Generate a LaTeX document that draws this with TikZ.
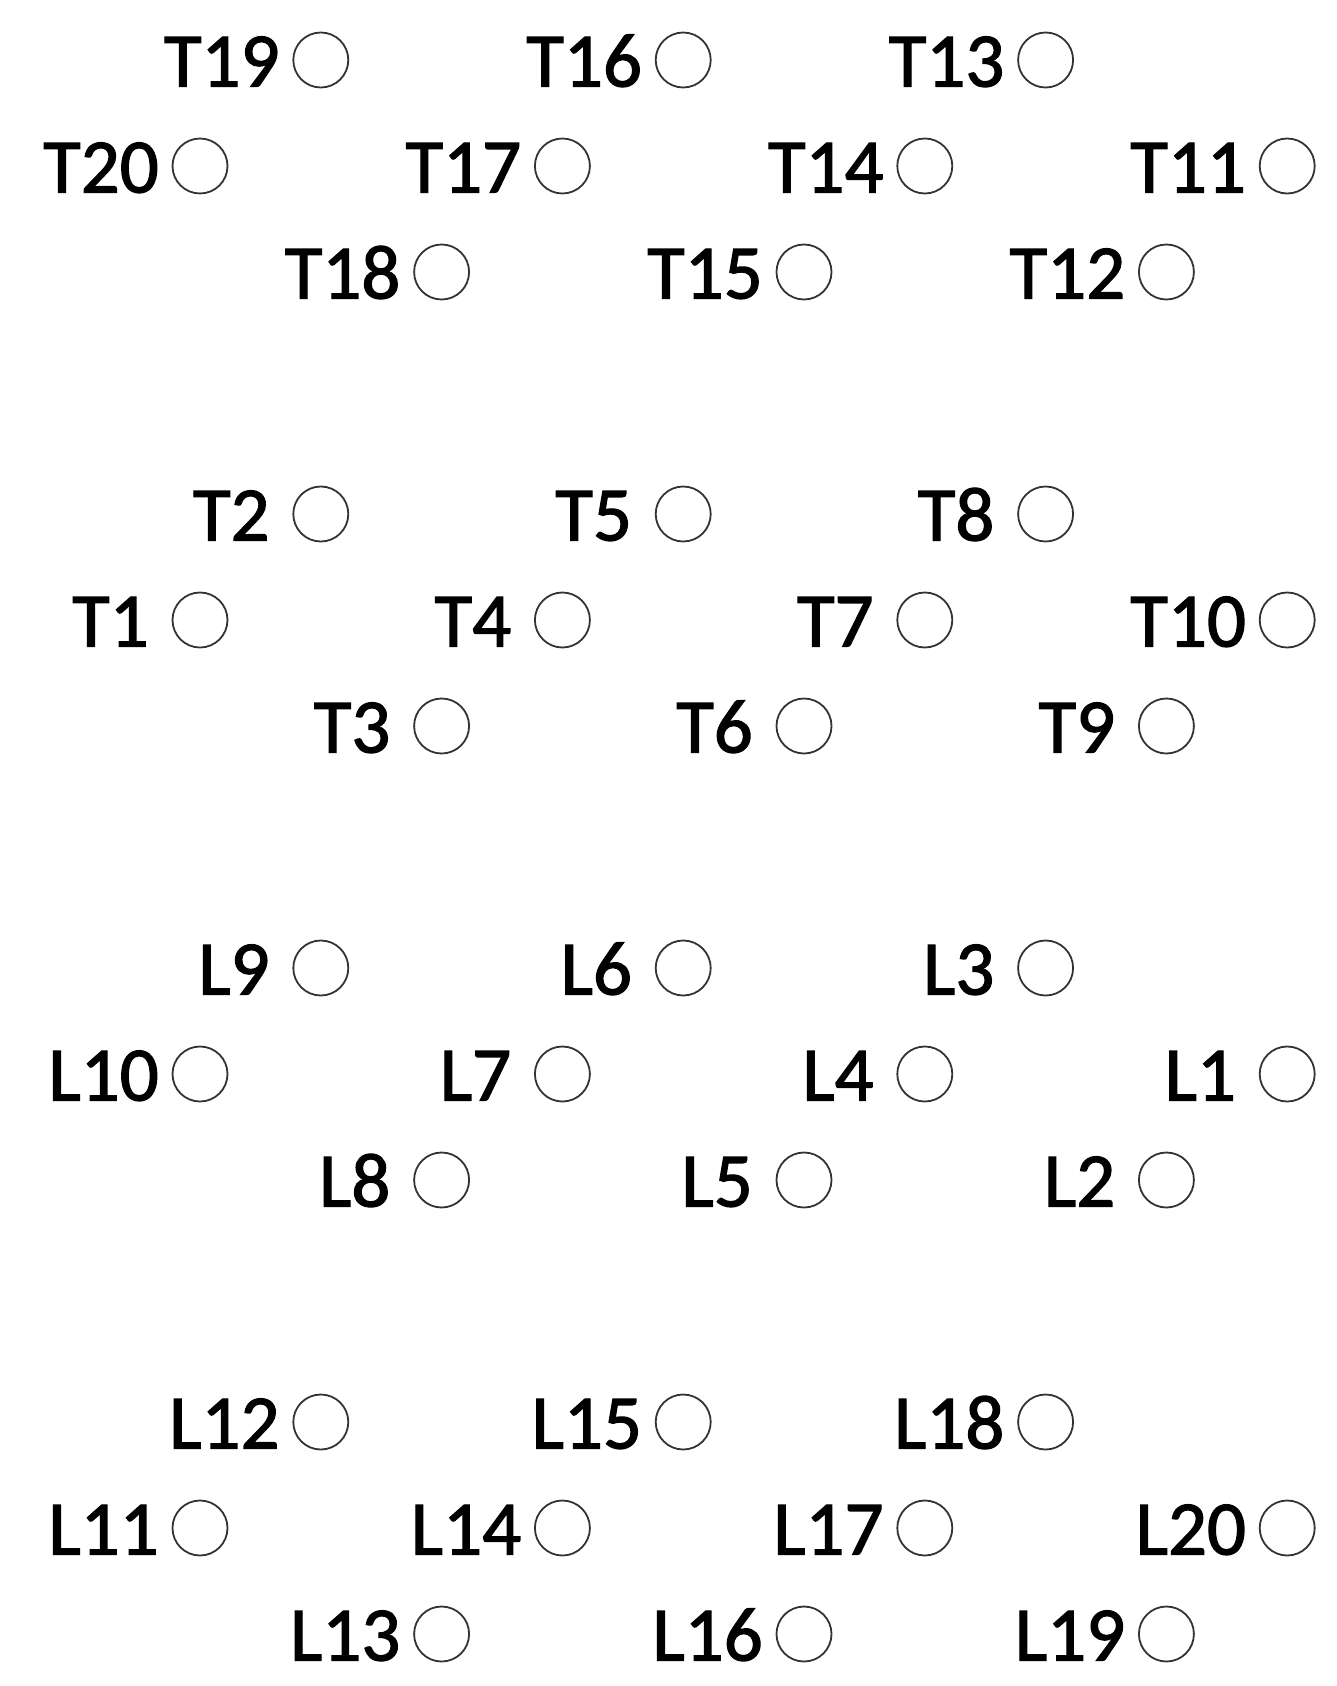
\documentclass[tikz,border=0pt]{standalone}
\usepackage{fontspec}
\setmainfont{Carlito}
\newfontfamily\seatfont{Carlito}[FakeBold=1.6]
\usepackage{tikz}

\begin{document}
\begin{tikzpicture}[x=1pt,y=-1pt,font=\seatfont\fontsize{77}{80}\selectfont]
\definecolor{seatLine}{HTML}{333333}
\definecolor{seatText}{HTML}{000000}
\def\xzero{200}
\def\xstep{120.8}
\def\yzero{60}
\def\ystep{106}
\def\blkstep{454}
\tikzset{
	seat/.style={circle,draw=seatLine,line width=1.8pt,minimum size=55pt,inner sep=0pt},
	seatlab/.style={anchor=base east,inner sep=0pt,text=seatText}
}

\useasboundingbox (0,0) rectangle (1336,1686);

\foreach \name/\col/\row/\blk/\gap in {
	T19/1/0/0/41, T16/4/0/0/41, T13/7/0/0/41,
	T20/0/1/0/41, T17/3/1/0/41, T14/6/1/0/41, T11/9/1/0/41,
	T18/2/2/0/41, T15/5/2/0/41, T12/8/2/0/41,
	T2/1/0/1/51, T5/4/0/1/51, T8/7/0/1/51,
	T1/0/1/1/51, T4/3/1/1/51, T7/6/1/1/51, T10/9/1/1/41,
	T3/2/2/1/51, T6/5/2/1/51, T9/8/2/1/51,
	L9/1/0/2/51, L6/4/0/2/51, L3/7/0/2/51,
	L10/0/1/2/41, L7/3/1/2/51, L4/6/1/2/51, L1/9/1/2/51,
	L8/2/2/2/51, L5/5/2/2/51, L2/8/2/2/51,
	L12/1/0/3/41, L15/4/0/3/41, L18/7/0/3/41,
	L11/0/1/3/41, L14/3/1/3/41, L17/6/1/3/41, L20/9/1/3/41,
	L13/2/2/3/41, L16/5/2/3/41, L19/8/2/3/41
} {
	\pgfmathsetmacro{\cx}{\xzero+\xstep*\col}
	\pgfmathsetmacro{\cy}{\yzero+\ystep*\row+\blkstep*\blk}
	\node[seat] (c-\name) at (\cx,\cy) {};
	\node[seatlab] (l-\name) at (\cx-\gap,\cy+26.5) {\name};
}
\end{tikzpicture}
\end{document}
